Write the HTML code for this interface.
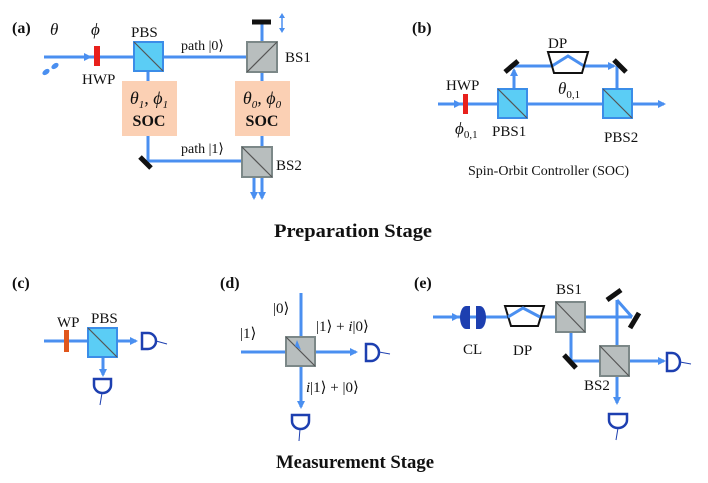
<!DOCTYPE html>
<html><head><meta charset="utf-8"><style>
html,body{margin:0;padding:0;background:#fff;}
svg{display:block;}
text{font-family:"Liberation Serif",serif;fill:#111;}
.b{stroke:#4a8ff0;stroke-width:3;fill:none;}
.pbs{fill:#5bcdf5;stroke:#3b8de8;stroke-width:2;}
.bs{fill:#b8bebe;stroke:#7c8888;stroke-width:2;}
.d{stroke:#555;stroke-width:1.2;}
.det{fill:#fff;stroke:#1d3fb0;stroke-width:2.5;}
.m{stroke:#111;stroke-width:5;}
</style></head><body>
<svg width="708" height="483" viewBox="0 0 708 483" xmlns="http://www.w3.org/2000/svg">
<defs>
<marker id="ar" markerWidth="8" markerHeight="8" refX="6" refY="4" orient="auto" markerUnits="userSpaceOnUse"><path d="M0,0 L8,4 L0,8 z" fill="#4a8ff0"/></marker>
</defs>

<!-- (a) -->
<text x="12" y="33" font-size="16" font-weight="bold">(a)</text>
<text x="50" y="35" font-size="17" font-style="italic">θ</text>
<text x="91" y="35" font-size="17" font-style="italic">ϕ</text>
<ellipse cx="46" cy="72" rx="4" ry="2.5" fill="#4a8ff0" transform="rotate(-35 46 72)"/>
<ellipse cx="55" cy="66" rx="4" ry="2.5" fill="#4a8ff0" transform="rotate(-35 55 66)"/>
<line class="b" x1="44" y1="57" x2="262" y2="57"/>
<path d="M84,53 L92,57 L84,61z" fill="#4a8ff0"/>
<rect x="94" y="46" width="6" height="20" fill="#e8201c"/>
<text x="82" y="84" font-size="15">HWP</text>
<text x="131" y="37" font-size="15">PBS</text>
<text x="181" y="50" font-size="14">path |0⟩</text>
<rect x="122" y="81" width="55" height="55" fill="#fbd0b4"/>
<rect x="235" y="81" width="55" height="55" fill="#fbd0b4"/>
<line class="b" x1="148" y1="57" x2="148" y2="81"/>
<line class="b" x1="148" y1="136" x2="148" y2="161"/>
<line class="b" x1="262" y1="22" x2="262" y2="81"/>
<line class="b" x1="262" y1="136" x2="262" y2="198" marker-end="url(#ar)"/>
<line class="b" x1="148" y1="161" x2="254" y2="161"/>
<line class="b" x1="254" y1="161" x2="254" y2="198" marker-end="url(#ar)"/>
<rect class="pbs" x="134" y="42" width="29" height="29"/>
<line class="d" x1="134" y1="42" x2="163" y2="71"/>
<rect class="bs" x="247" y="42" width="30" height="30"/>
<line class="d" x1="247" y1="72" x2="277" y2="42"/>
<rect class="bs" x="242" y="147" width="30" height="30"/>
<line class="d" x1="242" y1="147" x2="272" y2="177"/>
<line class="m" x1="252" y1="22" x2="271" y2="22"/>
<line class="m" x1="140" y1="157" x2="151" y2="168"/>
<line x1="282" y1="15" x2="282" y2="31" stroke="#4a8ff0" stroke-width="1.5"/>
<path d="M279,18 L282,13 L285,18z M279,28 L282,33 L285,28z" fill="#4a8ff0"/>
<text x="285" y="62" font-size="15">BS1</text>
<text x="276" y="170" font-size="15">BS2</text>
<text x="181" y="153" font-size="14">path |1⟩</text>
<text x="149" y="104" font-size="18" font-style="italic" text-anchor="middle">θ<tspan font-size="11" dy="4">1</tspan><tspan dy="-4">, ϕ</tspan><tspan font-size="11" dy="4">1</tspan></text>
<text x="149" y="126" font-size="16" font-weight="bold" text-anchor="middle">SOC</text>
<text x="262" y="104" font-size="18" font-style="italic" text-anchor="middle">θ<tspan font-size="11" dy="4">0</tspan><tspan dy="-4">, ϕ</tspan><tspan font-size="11" dy="4">0</tspan></text>
<text x="262" y="126" font-size="16" font-weight="bold" text-anchor="middle">SOC</text>
<text x="353" y="237" font-size="19" font-weight="bold" text-anchor="middle" textLength="158" lengthAdjust="spacingAndGlyphs">Preparation Stage</text>

<!-- (b) -->
<text x="412" y="33" font-size="16" font-weight="bold">(b)</text>
<line class="b" x1="438" y1="104" x2="664" y2="104" marker-end="url(#ar)"/>
<path d="M454,100 L462,104 L454,108z" fill="#4a8ff0"/>
<rect x="463" y="94" width="5" height="20" fill="#e8201c"/>
<text x="446" y="90" font-size="15">HWP</text>
<line class="b" x1="514" y1="104" x2="514" y2="70" marker-end="url(#ar)"/>
<line class="b" x1="514" y1="66" x2="552" y2="66"/>
<path class="b" d="M552,66 L568,56 L584,66" stroke-width="2.5"/>
<line class="b" x1="584" y1="66" x2="614" y2="66" marker-end="url(#ar)"/>
<line class="b" x1="617" y1="66" x2="617" y2="104"/>
<path d="M548,52 L588,52 L582,73 L554,73z" fill="none" stroke="#111" stroke-width="2"/>
<line class="m" x1="505" y1="72" x2="518" y2="61"/>
<line class="m" x1="614" y1="60" x2="626" y2="72"/>
<rect class="pbs" x="498" y="89" width="29" height="29"/>
<line class="d" x1="498" y1="89" x2="527" y2="118"/>
<rect class="pbs" x="603" y="89" width="29" height="29"/>
<line class="d" x1="603" y1="89" x2="632" y2="118"/>
<text x="548" y="48" font-size="15">DP</text>
<text x="558" y="94" font-size="17" font-style="italic">θ<tspan font-size="11" dy="4" font-style="normal">0,1</tspan></text>
<text x="455" y="134" font-size="17" font-style="italic">ϕ<tspan font-size="11" dy="4" font-style="normal">0,1</tspan></text>
<text x="492" y="136" font-size="15">PBS1</text>
<text x="604" y="142" font-size="15">PBS2</text>
<text x="468" y="175" font-size="14">Spin-Orbit Controller (SOC)</text>

<!-- (c) -->
<text x="12" y="288" font-size="16" font-weight="bold">(c)</text>
<line class="b" x1="44" y1="341" x2="136" y2="341" marker-end="url(#ar)"/>
<line class="b" x1="103" y1="341" x2="103" y2="375" marker-end="url(#ar)"/>
<rect x="64" y="330" width="5" height="22" fill="#e0561c"/>
<text x="57" y="327" font-size="15">WP</text>
<text x="91" y="323" font-size="15">PBS</text>
<rect class="pbs" x="88" y="328" width="29" height="29"/>
<line class="d" x1="88" y1="328" x2="117" y2="357"/>
<path class="det" d="M142,333 L148,333 A8,8 0 0 1 148,349 L142,349 Z"/>
<line x1="156" y1="341" x2="167" y2="344" stroke="#1d3fb0" stroke-width="1"/>
<path class="det" d="M94,379 L111,379 L111,385 A8.5,8 0 0 1 94,385 Z"/>
<line x1="102" y1="393" x2="100" y2="405" stroke="#1d3fb0" stroke-width="1"/>

<!-- (d) -->
<text x="220" y="288" font-size="16" font-weight="bold">(d)</text>
<line class="b" x1="301" y1="293" x2="301" y2="407" marker-end="url(#ar)"/>
<line class="b" x1="241" y1="352" x2="356" y2="352" marker-end="url(#ar)"/>
<rect class="bs" x="286" y="337" width="29" height="29"/>
<line class="d" x1="286" y1="337" x2="315" y2="366"/>
<path d="M295,346 L301,350 L297,340z" fill="#4a8ff0"/>
<text x="273" y="313" font-size="15">|0⟩</text>
<text x="240" y="338" font-size="15">|1⟩</text>
<text x="316" y="331" font-size="15">|1⟩ + <tspan font-style="italic">i</tspan>|0⟩</text>
<text x="306" y="392" font-size="15"><tspan font-style="italic">i</tspan>|1⟩ + |0⟩</text>
<path class="det" d="M366,344 L371,344 A8,8.5 0 0 1 371,361 L366,361 Z"/>
<line x1="379" y1="352" x2="390" y2="354" stroke="#1d3fb0" stroke-width="1"/>
<path class="det" d="M292,415 L309,415 L309,421 A8.5,8 0 0 1 292,421 Z"/>
<line x1="300" y1="429" x2="299" y2="441" stroke="#1d3fb0" stroke-width="1"/>
<text x="355" y="468" font-size="19" font-weight="bold" text-anchor="middle" textLength="158" lengthAdjust="spacingAndGlyphs">Measurement Stage</text>

<!-- (e) -->
<text x="414" y="288" font-size="16" font-weight="bold">(e)</text>
<line class="b" x1="433" y1="317" x2="632" y2="317"/>
<path d="M452,313 L460,317 L452,321z" fill="#4a8ff0"/>
<path d="M568,313 L576,317 L568,321z" fill="#4a8ff0"/>
<path d="M466,306 L470,306 L470,329 L466,329 A6,11.5 0 0 1 466,306Z" fill="#1d3fb0"/>
<path d="M476,306 L480,306 A6,11.5 0 0 1 480,329 L476,329Z" fill="#1d3fb0"/>
<path d="M505,306 L544,306 L538,326 L511,326z" fill="#fff" stroke="#111" stroke-width="2"/>
<path class="b" d="M508,317 L523,308 L540,317" stroke-width="2.5"/>
<line class="b" x1="632" y1="317" x2="617" y2="300"/>
<line class="b" x1="617" y1="300" x2="617" y2="403" marker-end="url(#ar)"/>
<line class="b" x1="571" y1="317" x2="571" y2="361"/>
<line class="b" x1="571" y1="361" x2="664" y2="361" marker-end="url(#ar)"/>
<rect class="bs" x="556" y="302" width="29" height="30"/>
<line class="d" x1="556" y1="302" x2="585" y2="332"/>
<rect class="bs" x="600" y="346" width="29" height="30"/>
<line class="d" x1="600" y1="346" x2="629" y2="376"/>
<line class="m" x1="607" y1="300" x2="621" y2="290"/>
<line class="m" x1="630" y1="328" x2="639" y2="313"/>
<line class="m" x1="564" y1="355" x2="576" y2="368"/>
<text x="463" y="354" font-size="15">CL</text>
<text x="513" y="355" font-size="15">DP</text>
<text x="556" y="294" font-size="15">BS1</text>
<text x="584" y="390" font-size="15">BS2</text>
<path class="det" d="M667,353 L672,353 A8,9 0 0 1 672,371 L667,371 Z"/>
<line x1="680" y1="362" x2="691" y2="364" stroke="#1d3fb0" stroke-width="1"/>
<path class="det" d="M609,414 L627,414 L627,420 A9,8 0 0 1 609,420 Z"/>
<line x1="618" y1="428" x2="616" y2="440" stroke="#1d3fb0" stroke-width="1"/>
</svg>
</body></html>
